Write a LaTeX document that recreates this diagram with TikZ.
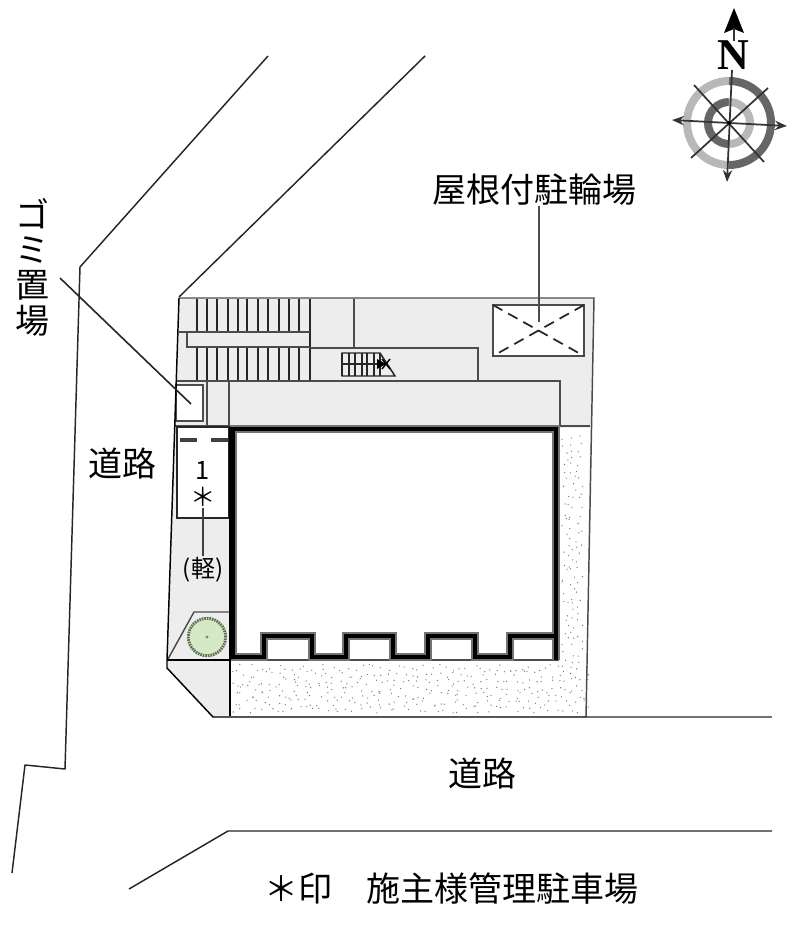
\documentclass[tikz,border=0pt]{standalone}
\usepackage{fontspec}
\usetikzlibrary{arrows.meta}
\newfontfamily\jpfont{Noto Sans CJK JP}
\newfontfamily\nfont{Liberation Serif}
\definecolor{treegreen}{HTML}{D6E9C6}
\definecolor{treeedge}{HTML}{5F6F58}
\tikzset{
	road/.style={draw=black!85,line width=1.1pt,line join=round},
	plan/.style={draw=black!70,line width=1.1pt},
	stairline/.style={draw=black!85,line width=1.1pt},
	walloutline/.style={draw=black!55,line width=5.4pt,line join=miter},
	wallcore/.style={draw=black,line width=3pt,line join=miter},
	compassline/.style={draw=black!80,line width=1.3pt},
	roofdash/.style={draw=black!85,line width=1.3pt,dash pattern=on 8pt off 5pt},
	jplabel/.style={font=\jpfont\fontsize{25.5}{26.5}\selectfont,inner sep=0pt,align=center},
	smalllabel/.style={font=\jpfont\fontsize{18}{19}\selectfont,inner sep=1pt}
}
\begin{document}
\begin{tikzpicture}[x=0.75pt,y=-0.75pt]
	\useasboundingbox (0,0) rectangle (800,941);
	\draw[road] (268,56) -- (80,267) -- (65,769) -- (25,765) -- (12,873);
	\draw[road] (425,56) -- (179,297);
	\draw[road,draw=black!55,line width=1.5pt] (586,717) -- (772,717);
	\draw[road] (129,889) -- (228,831) -- (772,831);

	\fill[black!7] (179,298) -- (594,298) -- (586,717) -- (213,717) -- (167,668) -- (167,660) -- cycle;

	\fill[white] (559,428) -- (590,428) -- (586,716) -- (229,716) -- (229,660) -- (559,660) -- cycle;
	\fill[white] (233,429) rectangle (556,660);
	\pgfmathsetseed{17}
	\foreach \x in {232,239,...,582}{
		\foreach \y in {664,671,...,712}{
			\fill[black!55] ({\x+7*rnd},{\y+7*rnd}) circle (0.5pt);
		}
	}
	\foreach \x in {562,569,576}{
		\foreach \y in {434,441,...,658}{
			\fill[black!55] ({\x+7*rnd},{\y+7*rnd}) circle (0.5pt);
		}
	}

	\foreach \x in {197,207,217,228,238,247,258,268,279,289,299}{
		\draw[stairline] (\x,299) -- (\x,332);
		\draw[stairline] (\x,347) -- (\x,381);
	}
	\draw[stairline] (310,299) -- (310,381);
	\draw[plan] (179,332) -- (310,332);
	\draw[plan] (187,332) -- (187,347) -- (310,347);
	\draw[plan] (354,299) -- (354,348);
	\draw[plan] (310,348) -- (478,348) -- (478,381);
	\draw[plan] (176,381) -- (560,381) -- (560,426);
	\draw[plan] (207,381) -- (207,426);
	\draw[plan] (229,381) -- (229,426);
	\draw[plan] (175,426) -- (590,426);
	\draw[plan,fill=white] (176,385) rectangle (203,421);

	\foreach \x in {342,349,355,362,367,374,380}{
		\draw[stairline] (\x,353) -- (\x,376);
	}
	\draw[stairline] (342,353) -- (380,353) -- (395,376) -- (342,376) -- cycle;
	\draw[stairline] (342,364) -- (388,364);
	\fill (377,359) -- (386,364) -- (377,369) -- cycle;
	\draw[line width=1.1pt] (382,359) -- (390,369) (390,359) -- (382,369);

	\draw[plan,fill=white] (493,305) rectangle (584,356);
	\draw[roofdash] (493,305) -- (584,356);
	\draw[roofdash] (584,305) -- (493,356);

	\draw[draw=black!85,line width=0.9pt,fill=white] (177,427) rectangle (229,518);
	\draw[draw=black!75,line width=2.6pt] (180,440) -- (197,440);
	\draw[draw=black!75,line width=2.6pt] (211,440) -- (228,440);

	\draw[plan] (168,659) -- (194,612) -- (229,612);
	\draw[draw=black,line width=0.9pt] (167,660) -- (229,660);
	\fill[treegreen] (207,637) circle (15pt);
	\draw[treeedge,line width=2.2pt,dash pattern=on 1.2pt off 0.7pt] (207,637) circle (14pt);
	\fill[black!50] (207,637) circle (1.2pt);

	\draw[plan] (179,298) -- (594,298) -- (586,717);
	\draw[draw=black,line width=1.1pt] (179,298) -- (167,660) -- (167,668) -- (213,717) -- (586,717);

	\draw[plan] (229,660) -- (559,660);
	\foreach \s in {walloutline,wallcore}{
		\draw[\s] (233,429) -- (233,657) -- (264,657) -- (264,636) -- (312,636) -- (312,657) -- (346,657) -- (346,636) -- (393,636) -- (393,657) -- (428,657) -- (428,636) -- (475,636) -- (475,657) -- (510,657) -- (510,636) -- (556,636);
		\draw[\s] (230,429) -- (556,429) -- (556,660);
	}
	\draw[draw=black,line width=1pt] (230,427) -- (230,716);

	\node[jplabel] (roofparking) at (534,190) {屋根付駐輪場};
	\coordinate (roofmark) at (539,322);
	\draw[draw=black!70,line width=1.5pt] (roofparking.south -| roofmark) -- (roofmark);
	\node[jplabel] (trash) at (33,267) {ゴ\\ミ\\置\\場};
	\coordinate (trashfrom) at (60,278);
	\coordinate (trashbox) at (191,404);
	\draw[draw=black!85,line width=1.2pt] (trashfrom) -- (trashbox);
	\node[jplabel] (roadwest) at (122,464) {道路};
	\node[jplabel] (roadsouth) at (482,774) {道路};
	\node[jplabel] (note) at (451,889) {＊印　施主様管理駐車場};
	\node[smalllabel,font=\jpfont\fontsize{19}{20}\selectfont] (space) at (203,470) {1};
	\node[smalllabel,font=\jpfont\fontsize{19}{20}\selectfont] (star) at (203,497) {＊};
	\node[smalllabel] (kei) at (203,570) {(軽)};
	\draw[draw=black!75,line width=1pt] (star) -- (kei);

	\draw[line width=6pt,black!28] (729,81) arc[start angle=90,end angle=270,radius=31.5pt];
	\draw[line width=6pt,black!60] (729,165) arc[start angle=-90,end angle=90,radius=31.5pt];
	\draw[line width=6pt,black!60] (729,102) arc[start angle=90,end angle=270,radius=15.75pt];
	\draw[line width=6pt,black!28] (729,144) arc[start angle=-90,end angle=90,radius=15.75pt];
	\draw[compassline,-{Stealth[length=9pt,width=7pt]}] (732,70) -- (727,182);
	\draw[compassline,{Stealth[length=9pt,width=7pt]}-{Stealth[length=9pt,width=7pt]}] (672,120) -- (787,126);
	\draw[compassline] (694,85) -- (764,162);
	\draw[compassline] (768,88) -- (691,158);
	\fill (729,123) circle (1.5pt);
	\node[font=\nfont\bfseries\fontsize{33}{33}\selectfont,inner sep=0pt] (north) at (733,55) {N};
	\fill (734,8) -- (744,33) -- (734,29) -- (724,33) -- cycle;
	\draw[compassline] (734,28) -- (734,41);
\end{tikzpicture}
\end{document}
